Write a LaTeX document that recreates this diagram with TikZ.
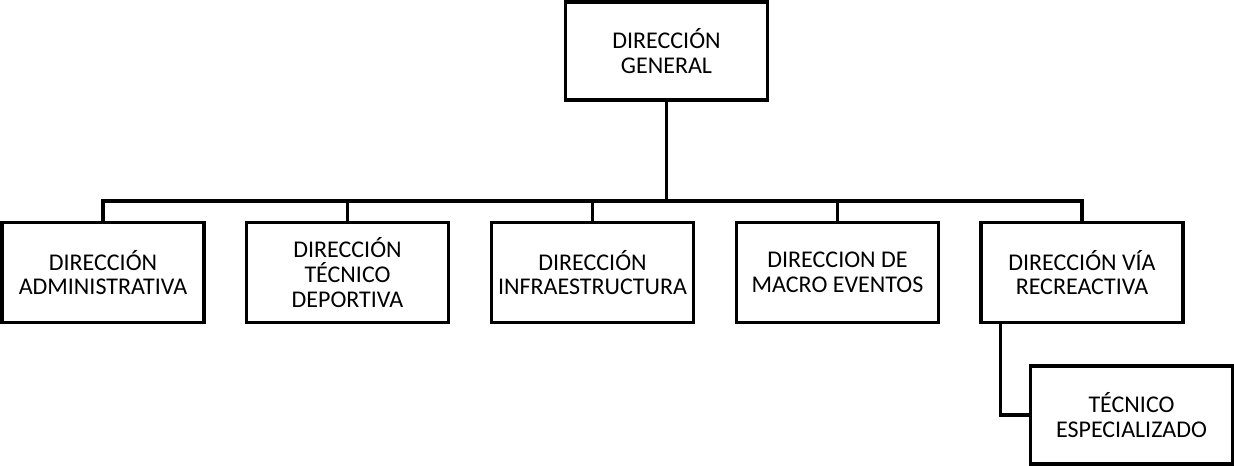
\documentclass[tikz,border=0pt]{standalone}
\usepackage{fontspec}
\setmainfont{Carlito}
\begin{document}
\begin{tikzpicture}[x=0.75pt,y=-0.75pt,
  box/.style={draw=black,line width=2.4pt,fill=white,minimum width=151.5pt,minimum height=75pt,
    align=center,inner sep=0pt,font=\fontsize{18}{18.5}\selectfont},
  link/.style={line width=2.4pt,draw=black}]
\useasboundingbox (0,0) rectangle (1234,466);
\node[box,minimum height=73.5pt] (top) at (666.5,51) {DIRECCIÓN\\GENERAL};
\node[box] (b1) at (103,272.5) {DIRECCIÓN\\ADMINISTRATIVA};
\node[box] (b2) at (347.5,272.5) {DIRECCIÓN\\TÉCNICO\\DEPORTIVA};
\node[box] (b3) at (592.5,272.5) {DIRECCIÓN\\INFRAESTRUCTURA};
\node[box] (b4) at (837.5,272.5) {DIRECCION DE\\MACRO EVENTOS};
\node[box] (b5) at (1082,272.5) {DIRECCIÓN VÍA\\RECREACTIVA};
\node[box,minimum height=73.5pt] (bot) at (1131.5,415) {TÉCNICO\\ESPECIALIZADO};
\coordinate (bus) at (0,201);
\draw[link] (top.south) -- (top.south |- bus);
\draw[link] (b1.north) |- (b5.north |- bus) -- (b5.north);
\draw[link] (b2.north) -- (b2.north |- bus);
\draw[link] (b3.north) -- (b3.north |- bus);
\draw[link] (b4.north) -- (b4.north |- bus);
\draw[link] ([xshift=15.75pt]b5.south west) |- (bot.west);
\end{tikzpicture}
\end{document}
